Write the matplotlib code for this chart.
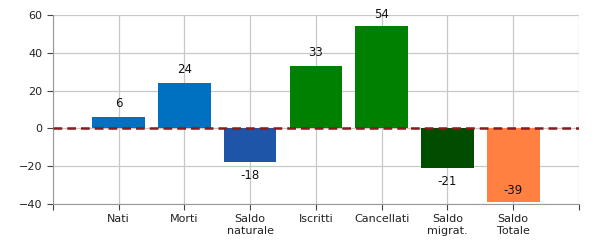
import numpy as np
import matplotlib.pyplot as plt

# categories and values
categories = ['Nati', 'Morti', 'Saldo\nnaturale', 'Iscritti', 'Cancellati', 'Saldo\nmigrat.', 'Saldo\nTotale']
values = [6, 24, -18, 33, 54, -21, -39]
colors = ['#0070C0', '#0070C0', '#1F55A8', '#008000', '#008000', '#004D00', '#FF8040']

fig = plt.figure(figsize=(6, 2.5), dpi=100)
ax = fig.add_axes([0.088, 0.184, 0.877, 0.756])

x = np.arange(len(categories))
ax.bar(x, values, width=0.8, color=colors, zorder=2)

# value labels, kept inside the plot area
for xi, v in zip(x, values):
    if v >= 0:
        y = min(v + 7, 60)
    else:
        y = max(v - 7, -33)
    ax.text(xi, y, str(v), ha='center', va='center', fontsize=8.5, color='#111111', zorder=4)

ax.axhline(0, color='#8B1A1A', lw=1.8, ls=(0, (3.5, 2)), zorder=3)

ax.set_xlim(-1, 7)
ax.set_ylim(-40, 60)
ax.set_yticks([-40, -20, 0, 20, 40, 60])
ax.set_xticks(np.arange(-1, 8))
ax.set_xticklabels([''] + categories + [''])
ax.tick_params(labelsize=8, colors='#222222')
ax.tick_params(axis='both', color='#444444', length=4)

ax.grid(True, color='#c8c8c8', lw=0.9, zorder=0)
ax.set_axisbelow(True)
for s in ['top', 'right']:
    ax.spines[s].set_visible(False)
for s in ['left', 'bottom']:
    ax.spines[s].set_color('#999999')

fig.savefig('out.png', dpi=100)
